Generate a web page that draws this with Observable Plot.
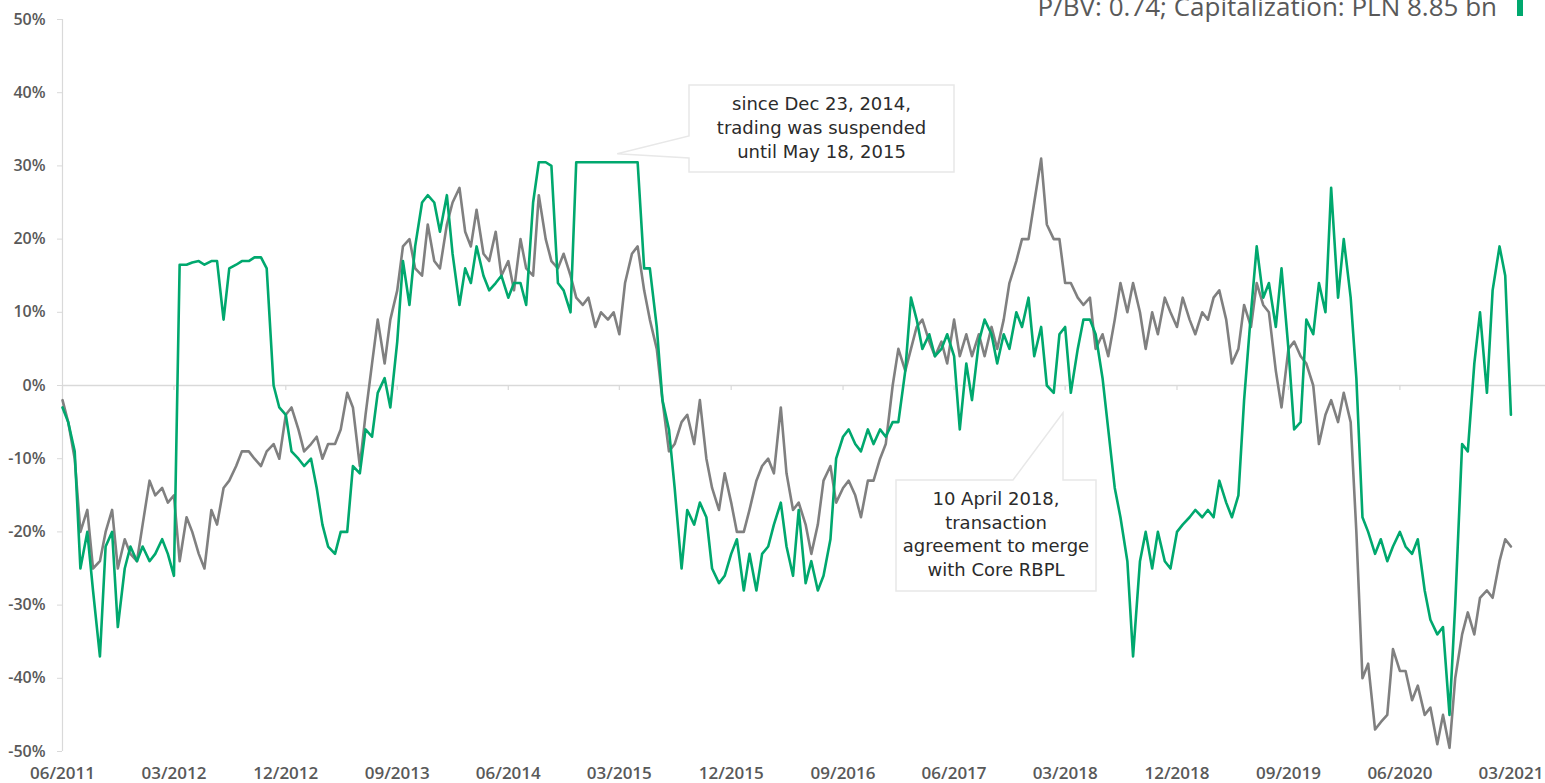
<!DOCTYPE html>
<html><head><meta charset="utf-8">
<script src="https://cdn.jsdelivr.net/npm/d3@7"></script>
<script src="https://cdn.jsdelivr.net/npm/@observablehq/plot@0.6"></script>
<style>
html,body{margin:0;padding:0;background:#fff;overflow:hidden}
#chart{position:relative;width:1545px;height:783px}
#chart svg{overflow:visible}
#chart svg g[aria-label$="tick label"] text{font-weight:600}
</style></head><body><div id="chart"></div>
<script>
// Dates (1st and 15th of each month)
const dates = [
"2011-06-01","2011-06-15","2011-07-01","2011-07-15","2011-08-01","2011-08-15","2011-09-01","2011-09-15","2011-10-01","2011-10-15","2011-11-01","2011-11-15","2011-12-01","2011-12-15",
"2012-01-01","2012-01-15","2012-02-01","2012-02-15","2012-03-01","2012-03-15","2012-04-01","2012-04-15","2012-05-01","2012-05-15","2012-06-01","2012-06-15","2012-07-01","2012-07-15","2012-08-01","2012-08-15","2012-09-01","2012-09-15","2012-10-01","2012-10-15","2012-11-01","2012-11-15","2012-12-01","2012-12-15",
"2013-01-01","2013-01-15","2013-02-01","2013-02-15","2013-03-01","2013-03-15","2013-04-01","2013-04-15","2013-05-01","2013-05-15","2013-06-01","2013-06-15","2013-07-01","2013-07-15","2013-08-01","2013-08-15","2013-09-01","2013-09-15","2013-10-01","2013-10-15","2013-11-01","2013-11-15","2013-12-01","2013-12-15",
"2014-01-01","2014-01-15","2014-02-01","2014-02-15","2014-03-01","2014-03-15","2014-04-01","2014-04-15","2014-05-01","2014-05-15","2014-06-01","2014-06-15","2014-07-01","2014-07-15","2014-08-01","2014-08-15","2014-09-01","2014-09-15","2014-10-01","2014-10-15","2014-11-01","2014-11-15","2014-12-01","2014-12-15",
"2015-01-01","2015-01-15","2015-02-01","2015-02-15","2015-03-01","2015-03-15","2015-04-01","2015-04-15","2015-05-01","2015-05-15","2015-06-01","2015-06-15","2015-07-01","2015-07-15","2015-08-01","2015-08-15","2015-09-01","2015-09-15","2015-10-01","2015-10-15","2015-11-01","2015-11-15","2015-12-01","2015-12-15",
"2016-01-01","2016-01-15","2016-02-01","2016-02-15","2016-03-01","2016-03-15","2016-04-01","2016-04-15","2016-05-01","2016-05-15","2016-06-01","2016-06-15","2016-07-01","2016-07-15","2016-08-01","2016-08-15","2016-09-01","2016-09-15","2016-10-01","2016-10-15","2016-11-01","2016-11-15","2016-12-01","2016-12-15",
"2017-01-01","2017-01-15","2017-02-01","2017-02-15","2017-03-01","2017-03-15","2017-04-01","2017-04-15","2017-05-01","2017-05-15","2017-06-01","2017-06-15","2017-07-01","2017-07-15","2017-08-01","2017-08-15","2017-09-01","2017-09-15","2017-10-01","2017-10-15","2017-11-01","2017-11-15","2017-12-01","2017-12-15",
"2018-01-01","2018-01-15","2018-02-01","2018-02-15","2018-03-01","2018-03-15","2018-04-01","2018-04-15","2018-05-01","2018-05-15","2018-06-01","2018-06-15","2018-07-01","2018-07-15","2018-08-01","2018-08-15","2018-09-01","2018-09-15","2018-10-01","2018-10-15","2018-11-01","2018-11-15","2018-12-01","2018-12-15",
"2019-01-01","2019-01-15","2019-02-01","2019-02-15","2019-03-01","2019-03-15","2019-04-01","2019-04-15","2019-05-01","2019-05-15","2019-06-01","2019-06-15","2019-07-01","2019-07-15","2019-08-01","2019-08-15","2019-09-01","2019-09-15","2019-10-01","2019-10-15","2019-11-01","2019-11-15","2019-12-01","2019-12-15",
"2020-01-01","2020-01-15","2020-02-01","2020-02-15","2020-03-01","2020-03-15","2020-04-01","2020-04-15","2020-05-01","2020-05-15","2020-06-01","2020-06-15","2020-07-01","2020-07-15","2020-08-01","2020-08-15","2020-09-01","2020-09-15","2020-10-01","2020-10-15","2020-11-01","2020-11-15","2020-12-01","2020-12-15",
"2021-01-01","2021-01-15","2021-02-01","2021-02-15","2021-03-01"
];

// Bank share price change (%) - green
const bank = [
-3,-5,-9,-25,-20,-28,-37,-22,-20,-33,
-25,-22,-24,-22,-24,-23,-21,-23,-26,16.5,
16.5,16.8,17,16.5,17,17,9,16,16.5,17,
17,17.5,17.5,16,0,-3,-4,-9,-10,-11,
-10,-14,-19,-22,-23,-20,-20,-11,-12,-6,
-7,-1,1,-3,6,17,11,19,25,26,
25,21,26,18,11,16,14,19,15,13,
14,15,12,14,14,11,25,30.5,30.5,30,
14,13,10,30.5,30.5,30.5,30.5,30.5,30.5,30.5,
30.5,30.5,30.5,30.5,16,16,8,-2,-6,-14,
-25,-17,-19,-16,-18,-25,-27,-26,-23,-21,
-28,-23,-28,-23,-22,-19,-16,-22,-26,-17,
-27,-24,-28,-26,-21,-10,-7,-6,-8,-9,
-6,-8,-6,-7,-5,-5,2,12,9,5,
7,4,5,7,4,-6,3,-2,6,9,
7,3,7,5,10,8,12,4,8,0,
-1,7,8,-1,5,9,9,7,1,-6,
-14,-18,-24,-37,-24,-20,-25,-20,-24,-25,
-20,-19,-18,-17,-18,-17,-18,-13,-16,-18,
-15,-2,10,19,12,14,8,16,5,-6,
-5,9,7,14,10,27,12,20,12,1,
-18,-20,-23,-21,-24,-22,-20,-22,-23,-21,
-28,-32,-34,-33,-45,-30,-8,-9,3,10,
-1,13,19,15,-4
];

// Benchmark index change (%) - gray
const index = [
-2,-5,-10,-20,-17,-25,-24,-20,-17,-25,
-21,-23,-24,-19,-13,-15,-14,-16,-15,-24,
-18,-20,-23,-25,-17,-19,-14,-13,-11,-9,
-9,-10,-11,-9,-8,-10,-4,-3,-6,-9,
-8,-7,-10,-8,-8,-6,-1,-3,-11,-4,
3,9,3,9,13,19,20,16,15,22,
17,16,22,25,27,21,19,24,18,17,
21,15,17,13,20,16,15,26,20,17,
16,18,15,12,11,12,8,10,9,10,
7,14,18,19,13,9,5,-2,-9,-8,
-5,-4,-8,-2,-10,-14,-17,-12,-16,-20,
-20,-17,-13,-11,-10,-12,-3,-12,-17,-16,
-19,-23,-19,-13,-11,-16,-14,-13,-15,-18,
-13,-13,-10,-8,0,5,2,5,8,9,
6,4,6,3,9,4,7,4,7,4,
8,5,9,14,17,20,20,25,31,22,
20,20,14,14,12,11,12,5,7,4,
9,14,10,14,10,5,10,7,12,10,
8,12,9,7,10,9,12,13,9,3,
5,11,8,14,11,10,2,-3,5,6,
4,3,0,-8,-4,-2,-5,-1,-5,-20,
-40,-38,-47,-46,-45,-36,-39,-39,-43,-41,
-45,-44,-49,-45,-49.5,-40,-34,-31,-34,-29,
-28,-29,-24,-21,-22
];

const xTickDates = ["2011-06-01","2012-03-01","2012-12-01","2013-09-01","2014-06-01","2015-03-01","2015-12-01","2016-09-01","2017-06-01","2018-03-01","2018-12-01","2019-09-01","2020-06-01","2021-03-01"];
const yTicks = [-50,-40,-30,-20,-10,0,10,20,30,40,50];
const titleText = "P/BV: 0.74; Capitalization: PLN 8.85 bn";
const note1 = ["since Dec 23, 2014,", "trading was suspended", "until May 18, 2015"];
const note2 = ["10 April 2018,", "transaction", "agreement to merge", "with Core RBPL"];

const parse = d3.utcParse("%Y-%m-%d");
const data = dates.map((d, i) => ({date: parse(d), bank: bank[i], index: index[i]}));
const xTicks = xTickDates.map(parse);

const chart = Plot.plot({
  width: 1545, height: 783,
  marginLeft: 62, marginRight: 0, marginTop: 19, marginBottom: 32,
  x: {type: "utc", domain: [parse("2011-06-01"), parse("2021-05-25")]},
  y: {domain: [-50, 50]},
  style: {fontFamily: "'Open Sans', sans-serif", background: "#fff", overflow: "visible"},
  marks: [
    Plot.ruleX([xTicks[0]], {y1: -50, y2: 50, stroke: "#d9d9d9", strokeWidth: 1.2}),
    Plot.ruleY([0], {stroke: "#d9d9d9", strokeWidth: 1.5}),
    Plot.ruleX(xTicks, {y1: 0, y2: -0.7, stroke: "#d9d9d9", strokeWidth: 1.2}),
    Plot.axisY({ticks: yTicks, tickFormat: d => d + "%", tickSize: 5, tickPadding: 12, stroke: "#d9d9d9", fill: "#595959", fontSize: 16, fontWeight: 600, label: null}),
    Plot.axisX({ticks: xTicks, tickFormat: d3.utcFormat("%m/%Y"), tickSize: 0, tickPadding: 15, fill: "#595959", fontSize: 17, fontWeight: 600, label: null}),
    Plot.lineY(data, {x: "date", y: "index", stroke: "#808080", strokeWidth: 2.6}),
    Plot.lineY(data, {x: "date", y: "bank", stroke: "#00a86e", strokeWidth: 2.6})
  ]
});
document.getElementById("chart").appendChild(chart);

const svg = d3.select(chart);
const sx = chart.scale("x"), sy = chart.scale("y");

// Title (partially clipped at top, as in the reference) with legend swatch
svg.append("text").attr("x", 1497).attr("y", 16).attr("text-anchor", "end")
  .attr("font-family", "'Open Sans', sans-serif").attr("font-size", 26).attr("fill", "#595959")
  .text(titleText);
svg.append("rect").attr("x", 1517).attr("y", -6).attr("width", 6).attr("height", 22).attr("fill", "#00a86e");

// Callout 1
const t1x = sx.apply(parse("2015-02-25")), t1y = sy.apply(31.6);
svg.append("path")
  .attr("d", `M689,85 H954 V172 H689 V158 L${t1x},${t1y} L689,136 Z`)
  .attr("fill", "#fff").attr("stroke", "#e8e8e8").attr("stroke-width", 1.5);
svg.append("g").selectAll("text").data(note1).join("text")
  .attr("x", 821.5).attr("y", (d, i) => 110 + i * 24).attr("text-anchor", "middle")
  .attr("font-family", "'DejaVu Sans', sans-serif").attr("font-size", 18).attr("fill", "#2b2b2b")
  .text(d => d);

// Callout 2
const t2x = sx.apply(parse("2018-02-25")), t2y = sy.apply(-3.8);
svg.append("path")
  .attr("d", `M896,480 H1013 L${t2x},${t2y} L${t2x},480 H1096 V591 H896 Z`)
  .attr("fill", "#fff").attr("stroke", "#e8e8e8").attr("stroke-width", 1.5);
svg.append("g").selectAll("text").data(note2).join("text")
  .attr("x", 996).attr("y", (d, i) => 505 + i * 23.5).attr("text-anchor", "middle")
  .attr("font-family", "'DejaVu Sans', sans-serif").attr("font-size", 18).attr("fill", "#2b2b2b")
  .text(d => d);
</script></body></html>
